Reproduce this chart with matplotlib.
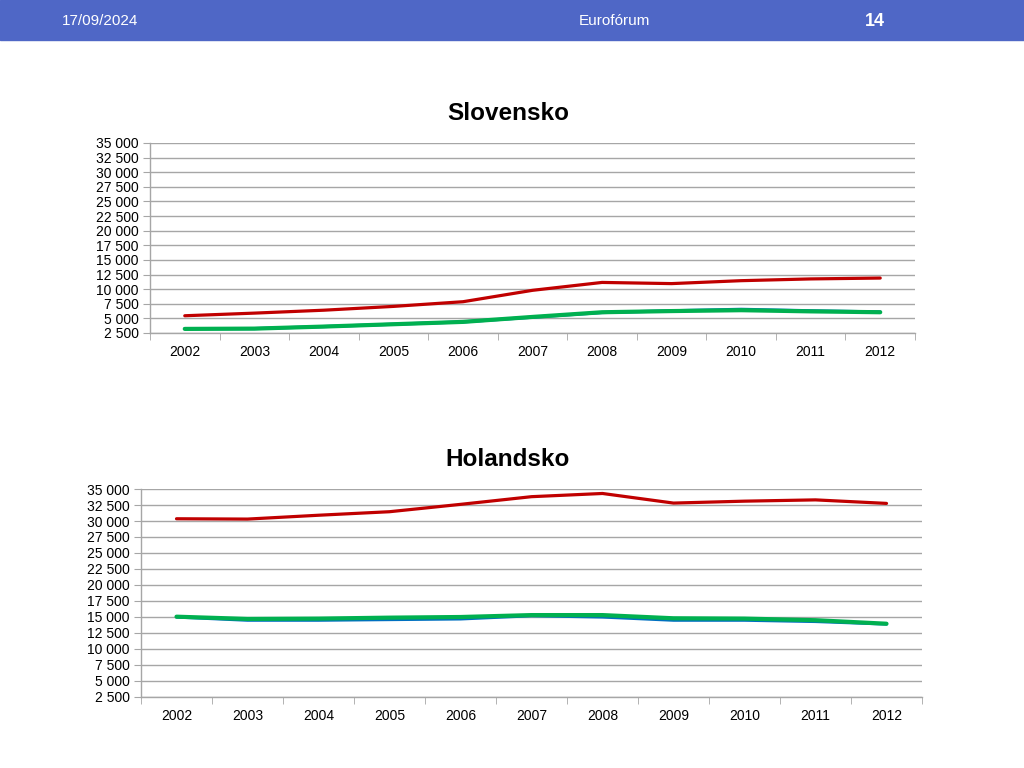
import matplotlib
matplotlib.use("Agg")
import matplotlib.pyplot as plt
from matplotlib.ticker import FuncFormatter, FixedLocator

plt.rcParams["font.family"] = ["Liberation Sans", "DejaVu Sans"]

years = ["2002", "2003", "2004", "2005", "2006", "2007",
         "2008", "2009", "2010", "2011", "2012"]

sk_red   = [5450, 5900, 6400, 7050, 7850, 9800, 11150, 10950, 11450, 11750, 11900]
sk_blue  = [3250, 3250, 3600, 4000, 4400, 5200, 6000, 6300, 6550, 6300, 6100]
sk_green = [3200, 3250, 3600, 4000, 4400, 5250, 6050, 6250, 6400, 6200, 6050]

nl_red   = [30350, 30300, 30900, 31450, 32600, 33800, 34300, 32800, 33100, 33300, 32750]
nl_blue  = [15000, 14500, 14500, 14600, 14700, 15200, 15000, 14500, 14500, 14300, 13900]
nl_green = [15050, 14700, 14750, 14900, 15000, 15300, 15300, 14800, 14750, 14500, 13950]

y_ticks = list(range(2500, 35001, 2500))

RED   = "#C00000"
BLUE  = "#0070C0"
GREEN = "#00B050"
GRID  = "#A6A6A6"
HEADER = "#4F67C6"


def fmt_thousands(v, pos):
    return f"{v:,.0f}".replace(",", " ")


def draw_panel(ax, red, blue, green):
    x = list(range(len(years)))
    ax.plot(x, red, color=RED, linewidth=2.3, solid_capstyle="round", zorder=3)
    ax.plot(x, blue, color=BLUE, linewidth=2.3, solid_capstyle="round", zorder=3)
    ax.plot(x, green, color=GREEN, linewidth=3.0, solid_capstyle="round", zorder=4)

    ax.set_xlim(-0.5, len(years) - 0.5)
    ax.set_ylim(2500, 35000)
    ax.yaxis.set_major_locator(FixedLocator(y_ticks))
    ax.yaxis.set_major_formatter(FuncFormatter(fmt_thousands))
    ax.yaxis.grid(True, color=GRID, linewidth=1.0)
    ax.set_axisbelow(True)

    ax.set_xticks(x)
    ax.set_xticklabels(years)
    ax.set_xticks([i - 0.5 for i in range(len(years) + 1)], minor=True)
    ax.tick_params(axis="x", which="major", length=0, pad=9, labelsize=10)
    ax.tick_params(axis="x", which="minor", length=5, color=GRID, direction="out")
    ax.tick_params(axis="y", length=5, color=GRID, labelsize=10, pad=3)

    for side in ("top", "right"):
        ax.spines[side].set_visible(False)
    for side in ("left", "bottom"):
        ax.spines[side].set_color(GRID)
        ax.spines[side].set_linewidth(1.0)


fig = plt.figure(figsize=(10.24, 7.68), dpi=100)

# header strip
fig.patches.append(plt.Rectangle((0, 1 - 40 / 768), 1, 40 / 768,
                                 transform=fig.transFigure, color=HEADER, zorder=0))
fig.text(62 / 1024, 1 - 21 / 768, "17/09/2024", color="white", fontsize=11,
         va="center", ha="left")
fig.text(614 / 1024, 1 - 21 / 768, "Eurofórum", color="white", fontsize=11,
         va="center", ha="center")
fig.text(875 / 1024, 1 - 22 / 768, "14", color="white", fontsize=13,
         fontweight="bold", va="center", ha="center")

ax1 = fig.add_axes([150 / 1024, 1 - 333 / 768, 765 / 1024, 190 / 768])
draw_panel(ax1, sk_red, sk_blue, sk_green)
fig.text(508 / 1024, 1 - 113 / 768, "Slovensko", fontsize=17.5,
         fontweight="bold", ha="center", va="center")

ax2 = fig.add_axes([141 / 1024, 1 - 697 / 768, 781 / 1024, 208 / 768])
draw_panel(ax2, nl_red, nl_blue, nl_green)
fig.text(508 / 1024, 1 - 460 / 768, "Holandsko", fontsize=17.5,
         fontweight="bold", ha="center", va="center")

fig.savefig("out.png", dpi=100)
